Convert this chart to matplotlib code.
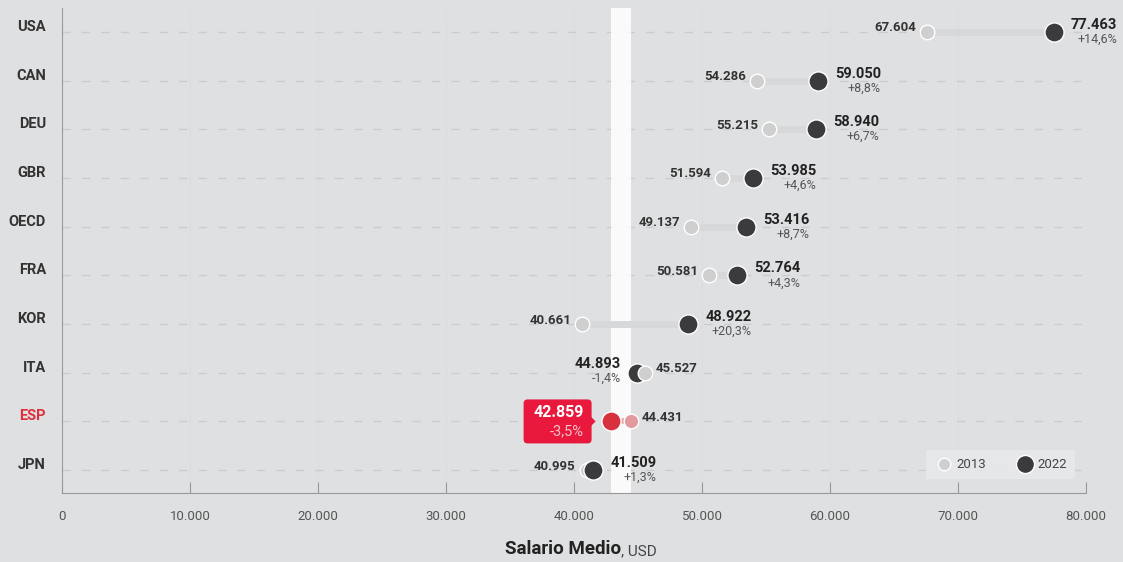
import matplotlib.pyplot as plt
from matplotlib.patches import FancyBboxPatch, Polygon
from matplotlib.lines import Line2D
from matplotlib.transforms import IdentityTransform

plt.rcParams['font.family'] = ['Roboto', 'DejaVu Sans']

# datos
countries = ["USA", "CAN", "DEU", "GBR", "OECD", "FRA", "KOR", "ITA", "ESP", "JPN"]
salary_2013 = [67604, 54286, 55215, 51594, 49137, 50581, 40661, 45527, 44431, 40995]
salary_2022 = [77463, 59050, 58940, 53985, 53416, 52764, 48922, 44893, 42859, 41509]
change_labels = ["+14,6%", "+8,8%", "+6,7%", "+4,6%", "+8,7%", "+4,3%", "+20,3%", "-1,4%", "-3,5%", "+1,3%"]
x_ticks = [0, 10000, 20000, 30000, 40000, 50000, 60000, 70000, 80000]
x_tick_labels = ["0", "10.000", "20.000", "30.000", "40.000", "50.000", "60.000", "70.000", "80.000"]
highlight = "ESP"

BG = "#dfe0e2"
DARK = "#3b3b3d"
LIGHT = "#cfcfcf"
RED = "#e8193c"

def fmt(v):
    return "{:,}".format(v).replace(",", ".")

fig = plt.figure(figsize=(11.23, 5.62), dpi=100, facecolor=BG)
ax = fig.add_axes([62 / 1123, 1 - 493 / 562, 1024 / 1123, 485 / 562])
ax.set_facecolor(BG)
ax.set_xlim(0, 80000)
ax.set_ylim(9.47, -0.49)

# banda blanca en el rango de España
i_esp = countries.index(highlight)
ax.axvspan(salary_2022[i_esp], salary_2013[i_esp], color="white", alpha=0.85, zorder=0.5, lw=0)

# rejilla
for xt in x_ticks[1:-1]:
    ax.axvline(xt, color="#dadbdd", lw=0.6, zorder=0.2)
for i in range(len(countries)):
    ax.axhline(i, color="#cbcccf", lw=1, dashes=(6, 8), zorder=0.3)

for i, c in enumerate(countries):
    a, b = salary_2013[i], salary_2022[i]
    # el punto más a la derecha queda encima
    za, zb = (4, 3) if a > b else (3, 4)
    if c == highlight:
        ax.plot([a, b], [i, i], color="#e9a3a8", lw=4, zorder=1, solid_capstyle="butt")
        ax.scatter(a, i, s=110, color="#e29a9f", edgecolor="white", lw=1, zorder=za)
        ax.scatter(b, i, s=190, color="#d7313e", edgecolor="white", lw=1, zorder=zb)
    else:
        ax.plot([a, b], [i, i], color="#d7d8da", lw=5, zorder=1, solid_capstyle="butt")
        ax.scatter(a, i, s=110, color=LIGHT, edgecolor="white", lw=1, zorder=za)
        ax.scatter(b, i, s=190, color=DARK, edgecolor="white", lw=1, zorder=zb)

    # nombre del país
    ax.annotate(c, xy=(0, i), xycoords=("axes fraction", "data"), xytext=(-16, 5),
                textcoords="offset pixels", ha="right", va="center", fontsize=10.5,
                fontweight="bold", color="#e0303f" if c == highlight else "#333333",
                annotation_clip=False)

    up = b >= a
    # etiqueta 2013
    ax.annotate(fmt(a), xy=(a, i), xytext=(-11 if up else 11, 4), textcoords="offset pixels",
                ha="right" if up else "left", va="center", fontsize=9.5, fontweight="bold",
                color="#333333", zorder=5)
    if c == highlight:
        px, py = ax.transData.transform((b, i))
        left, right = px - 87, px - 19
        bottom, top = py - 22, py + 22
        box = FancyBboxPatch((left, bottom), right - left, top - bottom,
                             boxstyle="round,pad=0,rounding_size=4", transform=IdentityTransform(),
                             facecolor=RED, edgecolor="none", zorder=6, clip_on=False)
        ax.add_artist(box)
        tri = Polygon([(right - 1, py + 5), (right + 4, py), (right - 1, py - 5)], closed=True,
                      transform=IdentityTransform(), facecolor=RED, edgecolor="none", zorder=6,
                      clip_on=False)
        ax.add_artist(tri)
        ax.annotate(fmt(b), xy=(b, i), xytext=(-27, 9), textcoords="offset pixels",
                    ha="right", va="center", fontsize=11.5, fontweight="bold", color="white", zorder=7)
        ax.annotate(change_labels[i], xy=(b, i), xytext=(-27, -10), textcoords="offset pixels",
                    ha="right", va="center", fontsize=10.5, color="#f6c2c8", zorder=7)
    elif up:
        vt = ax.annotate(fmt(b), xy=(b, i), xytext=(17, 7), textcoords="offset pixels",
                         ha="left", va="center", fontsize=10.5, fontweight="bold", color="#222222", zorder=5)
        ax.annotate(change_labels[i], xy=(1, 0), xycoords=vt, xytext=(0, -1), textcoords="offset pixels",
                    ha="right", va="top", fontsize=9, color="#555555", zorder=5)
    else:
        vt = ax.annotate(fmt(b), xy=(b, i), xytext=(-16, 9), textcoords="offset pixels",
                         ha="right", va="center", fontsize=10.5, fontweight="bold", color="#222222", zorder=5)
        ax.annotate(change_labels[i], xy=(1, 0), xycoords=vt, xytext=(0, -1), textcoords="offset pixels",
                    ha="right", va="top", fontsize=9, color="#555555", zorder=5)

# ejes
ax.set_yticks(range(len(countries)))
ax.set_yticklabels([])
ax.tick_params(axis="y", length=0)
ax.set_xticks(x_ticks)
ax.set_xticklabels(x_tick_labels, fontsize=9.5, color="#555555")
ax.tick_params(axis="x", direction="in", length=8, color="#999999", pad=12)
for s in ["top", "right"]:
    ax.spines[s].set_visible(False)
ax.spines["bottom"].set_color("#999999")
ax.spines["left"].set_color("#999999")

# leyenda
handles = [
    Line2D([], [], marker="o", ls="none", markersize=9, markerfacecolor=LIGHT, markeredgecolor="white"),
    Line2D([], [], marker="o", ls="none", markersize=13, markerfacecolor=DARK, markeredgecolor="white"),
]
leg = ax.legend(handles, ["2013", "2022"], ncol=2, loc="lower right", bbox_to_anchor=(0.9956, 0.0147),
                frameon=True, fancybox=False, fontsize=9.5, handletextpad=0.1, columnspacing=2.2,
                borderpad=0.6, handlelength=1.6, labelcolor="#444444")
leg.get_frame().set_facecolor("#e9eaec")
leg.get_frame().set_edgecolor("none")

# título del eje
t = fig.text(505 / 1123, 1 - 558 / 562, "Salario Medio", fontsize=13.5, fontweight="bold",
             color="#222222", ha="left", va="bottom")
ax.annotate(", USD", xy=(1, 0), xycoords=t, ha="left", va="bottom", fontsize=11, color="#444444",
            annotation_clip=False)

fig.savefig("out.png", dpi=100, facecolor=BG)
